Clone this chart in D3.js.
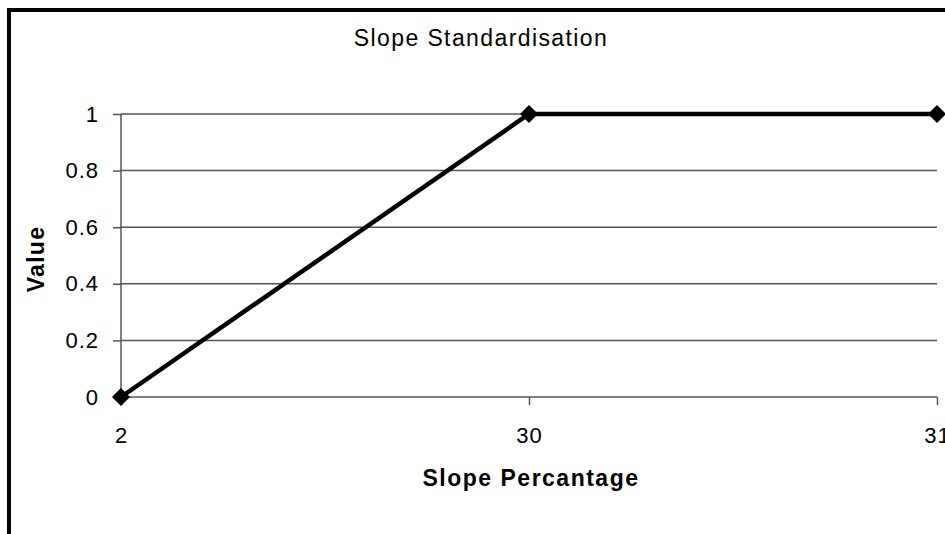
<!DOCTYPE html>
<html>
<head>
<meta charset="utf-8">
<script src="https://cdn.jsdelivr.net/npm/d3@7"></script>
<style>
  html, body { margin: 0; padding: 0; background: #fff; overflow: hidden; }
  text { font-family: "Liberation Sans", Arial, sans-serif; fill: #000; }
</style>
</head>
<body>
<svg id="chart" width="945" height="534"></svg>
<script>
// chart data
var categories = ["2", "30", "31"];
var values = [0, 1, 1];
var yTicks = [0, 0.2, 0.4, 0.6, 0.8, 1];

var svg = d3.select("#chart");
var plotLeft = 121, plotRight = 937, plotTop = 114, plotBottom = 397;
var axisColor = "#555";

var x = d3.scalePoint().domain(categories).range([plotLeft, plotRight]);
var y = d3.scaleLinear().domain([0, 1]).range([plotBottom, plotTop]);

// outer border (runs off the right and bottom edges)
svg.append("rect")
    .attr("x", 9).attr("y", 10)
    .attr("width", 1100).attr("height", 700)
    .attr("fill", "none").attr("stroke", "#000").attr("stroke-width", 4);

// gridlines
svg.append("g").selectAll("line").data(yTicks.slice(1)).enter().append("line")
    .attr("x1", plotLeft).attr("x2", plotRight)
    .attr("y1", function (d) { return y(d); }).attr("y2", function (d) { return y(d); })
    .attr("stroke", axisColor).attr("stroke-width", 1.5);

// y axis
var yAxis = d3.axisLeft(y).tickValues(yTicks).tickSize(8).tickPadding(14)
    .tickFormat(function (d) { return String(d); });
var gy = svg.append("g").attr("transform", "translate(" + plotLeft + ",0)").call(yAxis);
gy.select(".domain").remove();
gy.selectAll(".tick line").attr("stroke", axisColor).attr("stroke-width", 1.5);
gy.selectAll(".tick text").attr("font-size", "22px").attr("letter-spacing", "1px")
    .attr("font-family", "Liberation Sans, Arial, sans-serif");
gy.append("line").attr("x1", 0).attr("x2", 0).attr("y1", plotTop).attr("y2", plotBottom)
    .attr("stroke", axisColor).attr("stroke-width", 1.5);

// x axis
var xAxis = d3.axisBottom(x).tickSize(8).tickPadding(22);
var gx = svg.append("g").attr("transform", "translate(0," + plotBottom + ")").call(xAxis);
gx.select(".domain").remove();
gx.append("line").attr("x1", plotLeft).attr("x2", plotRight)
    .attr("stroke", axisColor).attr("stroke-width", 1.5);
gx.selectAll(".tick line").attr("stroke", axisColor).attr("stroke-width", 1.5);
gx.selectAll(".tick text").attr("font-size", "22px").attr("letter-spacing", "1px")
    .attr("font-family", "Liberation Sans, Arial, sans-serif");

// series line
var line = d3.line()
    .x(function (d, i) { return x(categories[i]); })
    .y(function (d) { return y(d); });
svg.append("path").datum(values)
    .attr("d", line)
    .attr("fill", "none").attr("stroke", "#000").attr("stroke-width", 4.5);

// diamond markers
svg.append("g").selectAll("path").data(values).enter().append("path")
    .attr("transform", function (d, i) { return "translate(" + x(categories[i]) + "," + y(d) + ")"; })
    .attr("d", "M0,-9L9,0L0,9L-9,0Z")
    .attr("fill", "#000");

// titles
svg.append("text")
    .attr("x", 481).attr("y", 46)
    .attr("text-anchor", "middle")
    .attr("font-size", "23px").attr("letter-spacing", "1.4px")
    .text("Slope Standardisation");

svg.append("text")
    .attr("x", 531).attr("y", 486)
    .attr("text-anchor", "middle")
    .attr("font-size", "23px").attr("font-weight", "bold").attr("letter-spacing", "1.5px")
    .text("Slope Percantage");

svg.append("text")
    .attr("transform", "translate(44,259) rotate(-90)")
    .attr("text-anchor", "middle")
    .attr("font-size", "23px").attr("font-weight", "bold").attr("letter-spacing", "1.3px")
    .text("Value");
</script>
</body>
</html>
